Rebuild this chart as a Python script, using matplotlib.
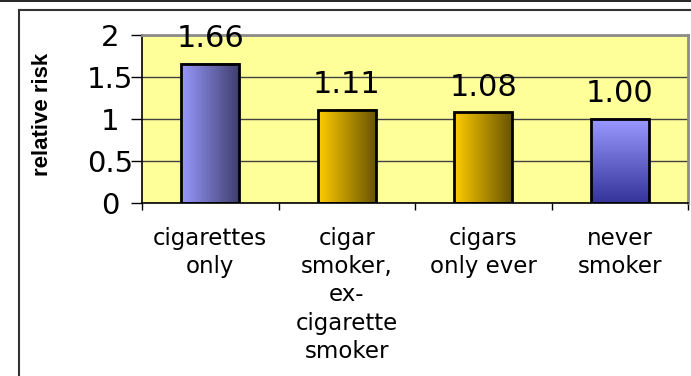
import numpy as np
import matplotlib.pyplot as plt
from matplotlib.colors import LinearSegmentedColormap
from matplotlib.lines import Line2D

# Relative risk by smoking history
categories = ['cigarettes\nonly',
              'cigar\nsmoker,\nex-\ncigarette\nsmoker',
              'cigars\nonly ever',
              'never\nsmoker']
relative_risk = [1.66, 1.11, 1.08, 1.00]
y_ticks = [0, 0.5, 1, 1.5, 2]
y_tick_labels = ['0', '0.5', '1', '1.5', '2']

# (light end, dark end, direction) of each bar's shading
bar_fills = [
    ('#9999ff', '#3d3d6b', 'horizontal'),
    ('#ffcc00', '#665200', 'horizontal'),
    ('#ffcc00', '#665200', 'horizontal'),
    ('#9999ff', '#333399', 'vertical'),
]

W, H = 691, 376
fig = plt.figure(figsize=(W / 100, H / 100), dpi=100)
ax = fig.add_axes([142 / W, 1 - 203 / H, (688 - 142) / W, (203 - 35) / H])
ax.set_facecolor('#ffff99')

x = np.arange(len(categories))
bars = ax.bar(x, relative_risk, width=0.425, facecolor='none',
              edgecolor='black', linewidth=2, zorder=3)

# gradient fill inside each bar
ramp = np.linspace(0, 1, 256)
for bar, (light, dark, direction) in zip(bars, bar_fills):
    cmap = LinearSegmentedColormap.from_list('shade', [light, dark])
    if direction == 'horizontal':
        img = ramp[np.newaxis, :]
    else:
        img = ramp[::-1][:, np.newaxis]
    x0, w, h = bar.get_x(), bar.get_width(), bar.get_height()
    ax.imshow(img, cmap=cmap, extent=[x0, x0 + w, 0, h], origin='lower',
              aspect='auto', interpolation='bicubic', zorder=2)

# value labels above the bars
for bar, v in zip(bars, relative_risk):
    ax.annotate(f'{v:.2f}', xy=(bar.get_x() + bar.get_width() / 2, v),
                xytext=(0, 12), textcoords='offset points',
                ha='center', va='baseline', fontsize=22,
                zorder=5, annotation_clip=False)

ax.set_xlim(-0.5, len(categories) - 0.5)
ax.set_ylim(0, 2)

# y axis
ax.set_yticks(y_ticks, y_tick_labels, fontsize=21)
for t in ax.get_yticklabels():
    t.set_horizontalalignment('center')
ax.tick_params(axis='y', length=8, pad=15, width=1)
ax.yaxis.grid(True, color='#404040', linewidth=1)
ax.set_axisbelow(True)
ax.set_ylabel('relative risk', fontsize=16, fontweight='bold',
              family='Liberation Sans', va='center')
ax.yaxis.set_label_coords((42 - 142) / (688 - 142), (203 - 114) / (203 - 35))

# x axis: ticks between categories, labels centred under bars
ax.set_xticks(np.arange(len(categories) + 1) - 0.5)
ax.set_xticklabels([])
ax.tick_params(axis='x', which='major', length=5, width=1)
ax.set_xticks(x, minor=True)
ax.set_xticklabels(categories, minor=True, fontsize=16.5, linespacing=1.3)
ax.tick_params(axis='x', which='minor', length=0, pad=17)

for side in ['left', 'bottom']:
    ax.spines[side].set_color('black')
    ax.spines[side].set_linewidth(1.2)
for side in ['top', 'right']:
    ax.spines[side].set_color('#8c8c8c')
    ax.spines[side].set_linewidth(2)

# frame lines around the chart
fig.add_artist(Line2D([0, 1], [1 - 1 / H] * 2, color='black', lw=1.2))
fig.add_artist(Line2D([19 / W, 1], [1 - 10 / H] * 2, color='#333333', lw=1.5))
fig.add_artist(Line2D([19 / W] * 2, [0, 1 - 10 / H], color='#333333', lw=1.5))

fig.savefig('out.png', dpi=100)
